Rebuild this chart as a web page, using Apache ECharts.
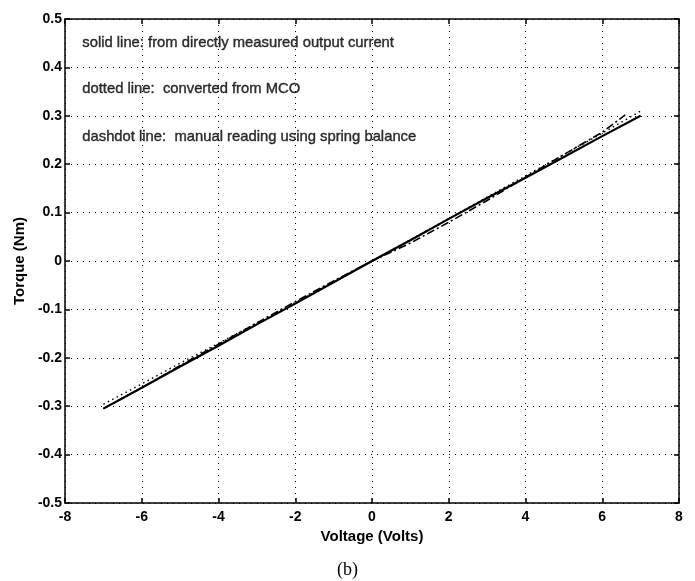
<!DOCTYPE html>
<html>
<head>
<meta charset="utf-8">
<script src="https://cdn.jsdelivr.net/npm/echarts@6/dist/echarts.min.js"></script>
<style>html,body{margin:0;padding:0;background:#fff;}#c{width:695px;height:581px;}</style>
</head>
<body>
<div id="c"></div>
<script>
var voltage = [-7, -6, -5, -4, -3, -2, -1, 0, 1, 2, 3, 4, 5, 6, 7];
var solidTorque = [-0.305, -0.262, -0.218, -0.175, -0.131, -0.088, -0.044, 0.0, 0.043, 0.087, 0.130, 0.172, 0.215, 0.258, 0.300];
var dottedTorque = [-0.296, -0.254, -0.211, -0.170, -0.128, -0.086, -0.043, 0.0, 0.044, 0.088, 0.132, 0.176, 0.220, 0.264, 0.310];
var dashdotVoltage = [-7, -6, -5, -4, -3, -2, -1, 0, 1, 2, 3, 4, 5, 6, 6.6];
var dashdotTorque = [-0.305, -0.262, -0.216, -0.172, -0.128, -0.084, -0.041, 0.0, 0.037, 0.080, 0.125, 0.173, 0.220, 0.266, 0.302];
var xTicks = [-8, -6, -4, -2, 0, 2, 4, 6, 8];
var yTicks = [-0.5, -0.4, -0.3, -0.2, -0.1, 0, 0.1, 0.2, 0.3, 0.4, 0.5];
var notes = [
  {x: -7.55, y: 0.45, text: 'solid line: from directly measured output current'},
  {x: -7.55, y: 0.355, text: 'dotted line:  converted from MCO'},
  {x: -7.55, y: 0.256, text: 'dashdot line:  manual reading using spring balance'}
];
var xName = 'Voltage (Volts)';
var yName = 'Torque (Nm)';
var caption = '(b)';

function pairs(xs, ys){ return xs.map(function(v,i){ return [v, ys[i]]; }); }

var chart = echarts.init(document.getElementById('c'), null, {renderer:'canvas'});
var FF = 'Liberation Sans, Arial, sans-serif';
var lbl = {color:'#000', fontFamily:FF, fontWeight:'bold', fontSize:14};
var nameStyle = {color:'#000', fontFamily:FF, fontWeight:'bold', fontSize:15};
var gridLine = {show:true, lineStyle:{color:'#000', type:[1,5], width:1}};
chart.setOption({
  animation:false,
  backgroundColor:'#fff',
  grid:{left:65, right:16, top:19, bottom:78, show:false},
  xAxis:[{
    type:'value', min:-8, max:8, interval:2, position:'bottom',
    axisLine:{onZero:false, lineStyle:{color:'#000', width:1.5}},
    axisTick:{inside:true, length:5, lineStyle:{color:'#000', width:1.5}},
    axisLabel:Object.assign({margin:7, formatter:function(v){ return xTicks.indexOf(v)>=0 ? String(v) : ''; }}, lbl),
    splitLine:gridLine,
    name:xName, nameLocation:'middle', nameGap:25, nameTextStyle:nameStyle
  },{
    type:'value', min:-8, max:8, interval:2, position:'top',
    axisLine:{onZero:false, lineStyle:{color:'#000', width:1.5}},
    axisTick:{inside:true, length:5, lineStyle:{color:'#000', width:1.5}},
    axisLabel:{show:false}, splitLine:{show:false}
  }],
  yAxis:[{
    type:'value', min:-0.5, max:0.5, interval:0.1, position:'left',
    axisLine:{onZero:false, lineStyle:{color:'#000', width:1.5}},
    axisTick:{inside:true, length:5, lineStyle:{color:'#000', width:1.5}},
    axisLabel:Object.assign({margin:3, formatter:function(v){ var r=Math.round(v*10)/10; return r===0 ? '0' : String(r); }}, lbl),
    splitLine:gridLine,
    name:yName, nameLocation:'middle', nameGap:36, nameRotate:90, nameTextStyle:nameStyle
  },{
    type:'value', min:-0.5, max:0.5, interval:0.1, position:'right',
    axisLine:{onZero:false, lineStyle:{color:'#000', width:1.5}},
    axisTick:{inside:true, length:5, lineStyle:{color:'#000', width:1.5}},
    axisLabel:{show:false}, splitLine:{show:false}
  }],
  series:[
    {type:'line', name:'solid', data:pairs(voltage, solidTorque), showSymbol:false, symbol:'none',
     lineStyle:{color:'#000', width:2.2, type:'solid'}, z:5},
    {type:'line', name:'dotted', data:pairs(voltage, dottedTorque), showSymbol:false, symbol:'none',
     lineStyle:{color:'#000', width:1.4, type:[1.5,3.5]}, z:4},
    {type:'line', name:'dashdot', data:pairs(dashdotVoltage, dashdotTorque), showSymbol:false, symbol:'none',
     lineStyle:{color:'#000', width:1.6, type:[8,3,2,3]}, z:4},
    {type:'scatter', name:'notes', symbolSize:0, silent:true,
     data:notes.map(function(n){ return {value:[n.x, n.y], name:n.text}; }),
     label:{show:true, position:'right', distance:0, formatter:function(p){ return p.name; },
       color:'#000', fontFamily:FF, fontSize:14.8, fontWeight:'normal',
       textBorderColor:'#000', textBorderWidth:0.4}}
  ],
  graphic:[{type:'text', left:'center', top:561, style:{text:caption, fill:'#000', font:'18px "Liberation Serif", "Times New Roman", serif'}}]
});
</script>
</body>
</html>
